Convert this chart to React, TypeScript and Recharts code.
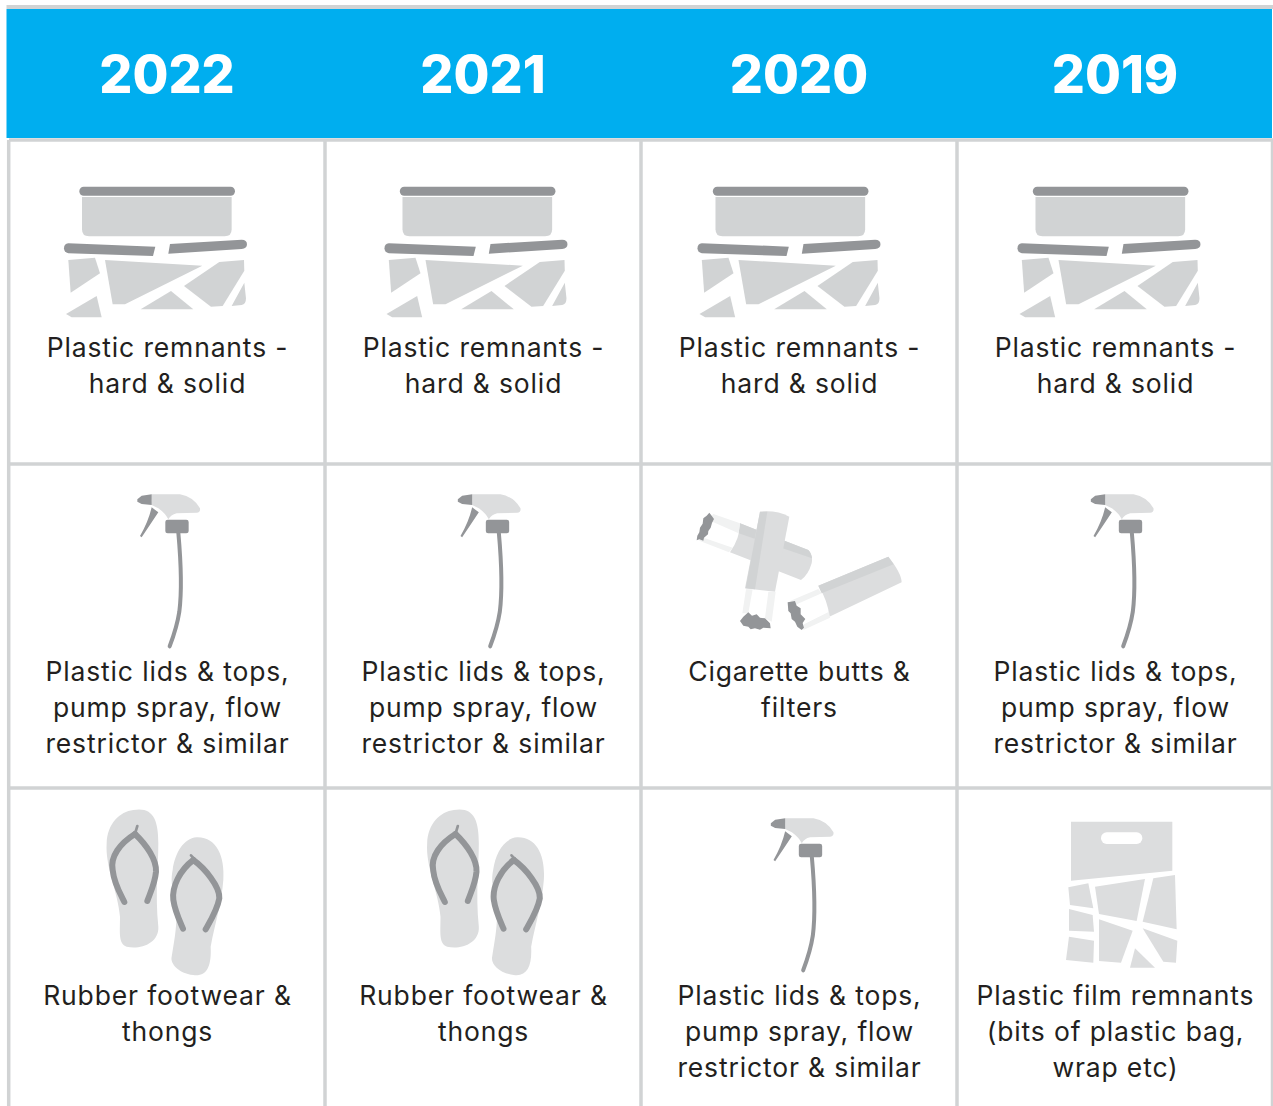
import { ScatterChart, Scatter, XAxis, YAxis, CartesianGrid } from "recharts";

const years = ["2022", "2021", "2020", "2019"];
const rank1Items = ["remnants", "remnants", "remnants", "remnants"];
const rank2Items = ["spray", "spray", "butts", "spray"];
const rank3Items = ["thongs", "thongs", "spray", "film"];

const itemLabels: Record<string, string[]> = {
  remnants: ["Plastic remnants -", "hard & solid"],
  spray: ["Plastic lids & tops,", "pump spray, flow", "restrictor & similar"],
  butts: ["Cigarette butts &", "filters"],
  thongs: ["Rubber footwear &", "thongs"],
  film: ["Plastic film remnants", "(bits of plastic bag,", "wrap etc)"],
};

const cells = [rank1Items, rank2Items, rank3Items].flatMap((items, r) =>
  items.map((item, c) => ({ year: years[c], rank: r + 1, item, col: c })),
);

const BLUE = "#00aeef";
const GRID = "#d1d3d4";
const DARK = "#939598";
const MID = "#d1d3d4";
const LIGHT = "#dcddde";
const PALE = "#f1f2f2";
const INK = "#231f20";
const FONT = "Inter, sans-serif";

// the artwork sits slightly off-centre, differently in each column
const colNudge = [0, 4.5, 1.5, 5.5];

const RemnantsIcon = () => (
  <g transform="translate(-167 -302) scale(0.3333)">
    <rect x={238} y={560} width={467} height={27} rx={13} fill={DARK} />
    <path d="M246 591H695V688Q695 709 674 709H267Q246 709 246 688Z" fill={MID} />
    <path d="M205 730L466 740L459 768L205 760Q192 757 192 745Q192 732 205 730Z" fill={DARK} />
    <path d="M510 732L725 719Q741 719 741 733Q741 746 725 747L505 761Z" fill={DARK} />
    <path d="M205 780L285 773L300 820L212 878Z" fill={MID} />
    <path d="M198 942L290 888L305 952H215Z" fill={MID} />
    <path d="M315 780L607 797L375 913L338 913Z" fill={MID} />
    <path d="M422 928L513 873L580 928Z" fill={MID} />
    <path d="M552 858L658 786L732 780L733 812L668 918L633 920Z" fill={MID} />
    <path d="M733 848L738 895Q738 914 725 915L695 918Z" fill={MID} />
  </g>
);

const SprayIcon = () => (
  <g transform="translate(-67 -146) scale(0.3333)">
    <path d="M155 43H240Q280 50 300 85Q302 97 290 98L230 100Q212 104 205 118Q196 100 175 85L155 75Z" fill={LIGHT} />
    <path d="M112 58L125 47L155 43V75L125 72L112 65Z" fill={DARK} />
    <path d="M155 82L175 97Q150 135 125 172L120 168Q145 125 155 82Z" fill={DARK} />
    <rect x={196} y={119} width={70} height={41} rx={7} fill={DARK} />
    <path d="M235 158C245 270 245 340 238 395C232 435 220 470 209 499" fill="none" stroke={DARK} strokeWidth={12} strokeLinecap="round" />
  </g>
);

const ButtsIcon = () => (
  <g transform="translate(-120.5 -131) scale(0.3333)">
    <path d="M180 85L385 165Q400 180 395 205Q385 240 363 255L150 172Q180 130 180 85Z" fill={LIGHT} />
    <path d="M180 85L385 165Q393 172 396 190L176 115Z" fill={MID} />
    <path d="M100 57L180 85L176 115L85 75Z" fill={PALE} />
    <path d="M62 125L158 158L147 172L58 137Z" fill={PALE} />
    <path d="M88 53L95 62L102 72L96 84L92 98L85 108L84 118L72 128L70 137L58 133L50 136L52 122L58 112L60 98L68 86L70 70L80 62Z" fill={DARK} />
    <path d="M240 50Q290 45 328 65L285 290L195 280Z" fill={LIGHT} />
    <path d="M240 50L262 50L225 283L197 280Z" fill={MID} />
    <path d="M198 283L218 283L205 355L187 355Z" fill={PALE} />
    <path d="M265 290L287 290L275 380L255 370Z" fill={PALE} />
    <path d="M190 365L205 352L216 362L230 358L240 368L255 370L270 385L272 400L250 398L240 404L225 400L212 403L205 395L190 392L180 378Z" fill={DARK} />
    <path d="M415 272L625 185Q665 235 665 262L448 365Q445 320 415 272Z" fill={LIGHT} />
    <path d="M415 272L625 185L641 208L425 295Z" fill={MID} />
    <path d="M330 318L415 282L425 295L345 330Z" fill={PALE} />
    <path d="M372 388L447 350L450 368L370 405Z" fill={PALE} />
    <path d="M323 322L345 318L350 332L362 340L362 358L376 372L368 384L372 398L365 405L352 395L345 380L335 372L332 355L325 348Z" fill={DARK} />
  </g>
);

const ThongsIcon = () => (
  <g transform="translate(-77 -150) scale(0.3333)">
    <path d="M130 30C190 20 205 60 205 130C205 200 195 280 205 380C208 430 150 450 110 440C85 430 90 400 90 350C85 280 45 200 50 130C52 70 90 35 130 30Z" fill={LIGHT} />
    <path d="M320 112C380 110 405 170 400 240C395 310 375 370 362 440C365 500 350 530 310 525C265 520 240 490 245 470C255 410 262 370 258 330C250 270 240 250 248 210C255 160 280 115 320 112Z" fill={LIGHT} />
    <g fill="none" stroke={DARK} strokeWidth={18} strokeLinecap="round">
      <path d="M135 102C90 130 60 170 68 210C72 250 90 280 103 306" />
      <path d="M135 102C170 135 200 180 198 215C195 250 180 280 172 303" />
      <path d="M310 180C270 210 245 260 250 300C255 335 270 365 279 386" />
      <path d="M310 180C345 205 390 260 388 295C382 330 360 365 347 388" />
    </g>
    <path d="M136 98L142 78" fill="none" stroke={DARK} strokeWidth={8} strokeLinecap="round" />
    <path d="M312 176L303 166" fill="none" stroke={DARK} strokeWidth={8} strokeLinecap="round" />
  </g>
);

const FilmIcon = () => (
  <g transform="translate(-70.5 -140) scale(0.3333)" fill={LIGHT}>
    <path d="M63 35H367V182L63 212Z" />
    <rect x={153} y={67} width={124} height={35} rx={17} fill="#ffffff" />
    <path d="M55 232L115 220L130 295L60 285Z" />
    <path d="M135 230L285 207L260 333L147 312Z" />
    <path d="M310 205L375 195L380 358L278 335Z" />
    <path d="M57 297L128 315L132 365L57 362Z" />
    <path d="M147 328L248 362L213 458L147 453Z" />
    <path d="M278 355L382 392L378 458L340 455Z" />
    <path d="M57 380L132 392L130 458L48 450Z" />
    <path d="M255 415L315 473H240Z" />
  </g>
);

const itemIcons: Record<string, () => React.ReactElement> = {
  remnants: RemnantsIcon,
  spray: SprayIcon,
  butts: ButtsIcon,
  thongs: ThongsIcon,
  film: FilmIcon,
};

const CellMark = ({ cx, cy, payload }: any) => {
  const Icon = itemIcons[payload.item];
  return (
    <g>
      <g transform={`translate(${cx + colNudge[payload.col]} ${cy})`}>
        <Icon />
      </g>
      {itemLabels[payload.item].map((line, i) => (
        <text
          key={line}
          x={cx + 0.5}
          y={cy + 55.5 + i * 36}
          textAnchor="middle"
          fontFamily={FONT}
          fontSize={26.5}
          letterSpacing={0.85}
          fill={INK}
        >
          {line}
        </text>
      ))}
    </g>
  );
};

const YearTick = ({ x, index, payload }: any) => {
  const left = index === 0 ? x - 160.5 : x - 158;
  const right = index === 3 ? x + 157 : x + 158;
  return (
    <g>
      <rect x={left} y={5} width={index === 3 ? right - left + 1 : right - left} height={4} fill={GRID} />
      <rect x={left} y={9} width={right - left} height={129} fill={BLUE} />
      <text
        x={x}
        y={93}
        textAnchor="middle"
        fontFamily={FONT}
        fontWeight={800}
        fontSize={52}
        fill="#ffffff"
      >
        {payload.value}
      </text>
    </g>
  );
};

export default function App() {
  return (
    <div style={{ position: "absolute", left: 0, top: 0, width: 1273, height: 1106, background: "#ffffff" }}>
      <ScatterChart width={1273} height={1106} margin={{ top: 9, right: 0, bottom: 0, left: 9 }}>
        <CartesianGrid
          stroke={GRID}
          strokeWidth={3.5}
          horizontalPoints={[140, 464, 788]}
          verticalPoints={[8.7, 325, 641, 957, 1272.5]}
        />
        <XAxis
          xAxisId={0}
          dataKey="year"
          type="category"
          orientation="top"
          allowDuplicatedCategory={false}
          height={131}
          axisLine={false}
          tickLine={false}
          interval={0}
          tick={<YearTick />}
        />
        <YAxis yAxisId={0} dataKey="rank" type="number" domain={[0.5, 3.4815]} reversed hide />
        <Scatter data={cells} shape={<CellMark />} isAnimationActive={false} />
      </ScatterChart>
    </div>
  );
}
